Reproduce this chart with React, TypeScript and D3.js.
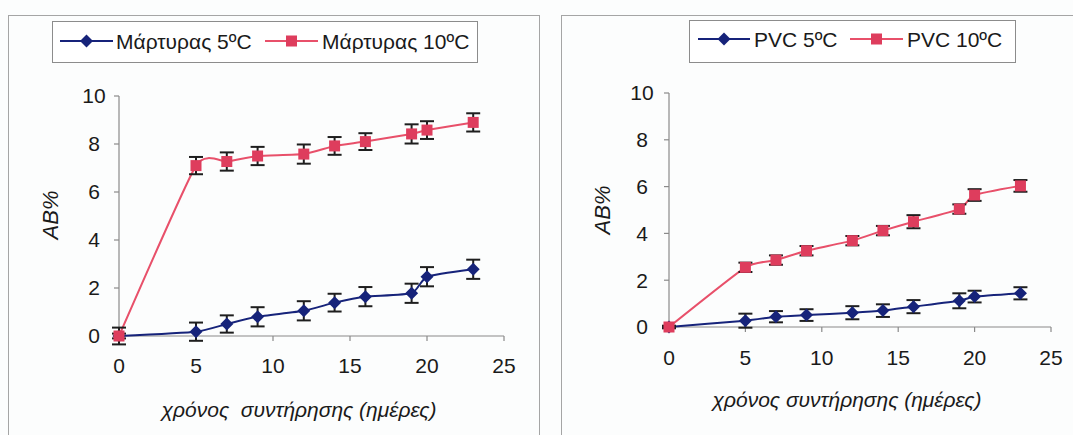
import React from "react";
import * as d3 from "d3";

// ---- data ----
const days = [0, 5, 7, 9, 12, 14, 16, 19, 20, 23];

const controlColdLabel = "Μάρτυρας 5ºC";
const controlCold = [0, 0.18, 0.5, 0.8, 1.05, 1.39, 1.64, 1.78, 2.47, 2.78];
const controlColdErr = [0.1, 0.38, 0.36, 0.4, 0.4, 0.37, 0.4, 0.4, 0.4, 0.4];

const controlWarmLabel = "Μάρτυρας 10ºC";
const controlWarm = [0, 7.1, 7.27, 7.5, 7.58, 7.92, 8.1, 8.42, 8.58, 8.9];
const controlWarmErr = [0.35, 0.36, 0.38, 0.38, 0.4, 0.37, 0.35, 0.4, 0.37, 0.38];

const pvcColdLabel = "PVC 5ºC";
const pvcCold = [0, 0.27, 0.44, 0.51, 0.61, 0.7, 0.87, 1.12, 1.3, 1.44];
const pvcColdErr = [0.05, 0.3, 0.24, 0.25, 0.28, 0.27, 0.28, 0.32, 0.25, 0.26];

const pvcWarmLabel = "PVC 10ºC";
const pvcWarm = [0, 2.55, 2.86, 3.26, 3.69, 4.12, 4.5, 5.04, 5.64, 6.03];
const pvcWarmErr = [0.05, 0.2, 0.2, 0.2, 0.2, 0.2, 0.28, 0.2, 0.25, 0.25];

const xTicks = [0, 5, 10, 15, 20, 25];
const yTicks = [0, 2, 4, 6, 8, 10];
const yTitle = "AB%";
const xTitleLeft = "χρόνος  συντήρησης (ημέρες)";
const xTitleRight = "χρόνος συντήρησης (ημέρες)";

// ---- style ----
const BLUE = "#16237a";
const RED_LINE = "#e8506a";
const RED_MARK = "#de3d5d";
const AXIS = "#8a8a8a";
const FONT = "'Liberation Sans', Arial, sans-serif";
const TXT = "#1a1a1a";

type Series = { label: string; values: number[]; err: number[]; kind: "diamond" | "square" };

type Layout = {
  frame: [number, number, number, number];
  plot: { x0: number; x1: number; y0: number; y1: number };
  legend: { x: number; y: number; w: number; h: number; items: { lx0: number; lx1: number; tx: number }[]; baseline: number };
  yTitle: { x: number; y: number };
  xTitle: { x: number; y: number; text: string };
  xTickBaseline: number;
  yLabelX: number;
};

function Marker({ kind, x, y, color }: { kind: string; x: number; y: number; color: string }) {
  if (kind === "diamond") {
    const r = 6.5;
    return <path d={`M${x},${y - r}L${x + r},${y}L${x},${y + r}L${x - r},${y}Z`} fill={color} />;
  }
  const s = 11;
  return <rect x={x - s / 2} y={y - s / 2} width={s} height={s} fill={color} />;
}

function Chart({ layout, series }: { layout: Layout; series: Series[] }) {
  const { plot } = layout;
  const x = d3.scaleLinear().domain([0, 25]).range([plot.x0, plot.x1]);
  const y = d3.scaleLinear().domain([0, 10]).range([plot.y1, plot.y0]);
  const line = d3
    .line<[number, number]>()
    .x((d) => x(d[0]))
    .y((d) => y(d[1]))
    .curve(d3.curveCardinal.tension(0.5));
  const [fx0, fy0, fx1, fy1] = layout.frame;
  const colorOf = (s: Series) => (s.kind === "diamond" ? BLUE : RED_LINE);
  const markOf = (s: Series) => (s.kind === "diamond" ? BLUE : RED_MARK);
  return (
    <g>
      <rect x={fx0 + 0.5} y={fy0 + 0.5} width={fx1 - fx0} height={fy1 - fy0} fill="none" stroke="#a5a5a5" strokeWidth={1} />
      {/* legend */}
      <rect
        x={layout.legend.x + 0.5}
        y={layout.legend.y + 0.5}
        width={layout.legend.w}
        height={layout.legend.h}
        fill="#ffffff"
        stroke="#8c8c8c"
        strokeWidth={1}
      />
      {series.map((s, i) => {
        const it = layout.legend.items[i];
        const cy = layout.legend.baseline - 8;
        return (
          <g key={"lg" + i}>
            <line x1={it.lx0} x2={it.lx1} y1={cy} y2={cy} stroke={colorOf(s)} strokeWidth={2} />
            <Marker kind={s.kind} x={(it.lx0 + it.lx1) / 2} y={cy} color={markOf(s)} />
            <text x={it.tx} y={layout.legend.baseline} fontSize={21} fontFamily={FONT} fill={TXT}>
              {s.label}
            </text>
          </g>
        );
      })}
      {/* axes */}
      <line x1={plot.x0} x2={plot.x0} y1={plot.y0} y2={plot.y1} stroke={AXIS} strokeWidth={1.2} />
      <line x1={plot.x0} x2={plot.x1} y1={plot.y1} y2={plot.y1} stroke={AXIS} strokeWidth={1.2} />
      {yTicks.map((t) => (
        <g key={"yt" + t}>
          <line x1={plot.x0 - 5} x2={plot.x0} y1={y(t)} y2={y(t)} stroke={AXIS} strokeWidth={1.2} />
          <text
            x={layout.yLabelX}
            y={y(t)}
            dy="0.35em"
            textAnchor="middle"
            fontSize={21}
            fontFamily={FONT}
            fill={TXT}
          >
            {t}
          </text>
        </g>
      ))}
      {xTicks.map((t) => (
        <g key={"xt" + t}>
          <line x1={x(t)} x2={x(t)} y1={plot.y1} y2={plot.y1 + 5} stroke={AXIS} strokeWidth={1.2} />
          <text x={x(t)} y={layout.xTickBaseline} textAnchor="middle" fontSize={21} fontFamily={FONT} fill={TXT}>
            {t}
          </text>
        </g>
      ))}
      <text
        transform={`translate(${layout.yTitle.x},${layout.yTitle.y}) rotate(-90)`}
        textAnchor="middle"
        dy="0.35em"
        fontSize={22}
        fontStyle="italic"
        fontFamily={FONT}
        fill={TXT}
      >
        {yTitle}
      </text>
      <text
        x={layout.xTitle.x}
        y={layout.xTitle.y}
        textAnchor="middle"
        fontSize={21}
        fontStyle="italic"
        fontFamily={FONT}
        fill={TXT}
        style={{ whiteSpace: "pre" }}
      >
        {layout.xTitle.text}
      </text>
      {/* series */}
      {series.map((s, i) => {
        const pts: [number, number][] = days.map((d, j) => [d, s.values[j]]);
        return (
          <g key={"s" + i}>
            <path d={line(pts) || ""} fill="none" stroke={colorOf(s)} strokeWidth={2} />
            {days.map((d, j) => {
              const cx = x(d);
              const top = y(s.values[j] + s.err[j]);
              const bot = y(s.values[j] - s.err[j]);
              return (
                <g key={"e" + j} stroke="#1e1e1e" strokeWidth={2}>
                  <line x1={cx} x2={cx} y1={top} y2={bot} />
                  <line x1={cx - 7} x2={cx + 7} y1={top} y2={top} />
                  <line x1={cx - 7} x2={cx + 7} y1={bot} y2={bot} />
                </g>
              );
            })}
            {days.map((d, j) => (
              <Marker key={"m" + j} kind={s.kind} x={x(d)} y={y(s.values[j])} color={markOf(s)} />
            ))}
          </g>
        );
      })}
    </g>
  );
}

const leftLayout: Layout = {
  frame: [8, 15, 539, 445],
  plot: { x0: 119, x1: 504, y0: 96, y1: 336 },
  legend: {
    x: 52,
    y: 21,
    w: 425,
    h: 41,
    baseline: 49,
    items: [
      { lx0: 60, lx1: 113, tx: 116 },
      { lx0: 265, lx1: 318, tx: 322 },
    ],
  },
  yTitle: { x: 50, y: 215 },
  xTitle: { x: 299, y: 417, text: xTitleLeft },
  xTickBaseline: 373,
  yLabelX: 94,
};

const rightLayout: Layout = {
  frame: [561, 15, 1085, 445],
  plot: { x0: 669, x1: 1051, y0: 93, y1: 327 },
  legend: {
    x: 689,
    y: 20,
    w: 326,
    h: 42,
    baseline: 47,
    items: [
      { lx0: 698, lx1: 750, tx: 754 },
      { lx0: 850, lx1: 903, tx: 907 },
    ],
  },
  yTitle: { x: 602, y: 210 },
  xTitle: { x: 847, y: 407, text: xTitleRight },
  xTickBaseline: 365,
  yLabelX: 642,
};

export default function App() {
  const leftSeries: Series[] = [
    { label: controlColdLabel, values: controlCold, err: controlColdErr, kind: "diamond" },
    { label: controlWarmLabel, values: controlWarm, err: controlWarmErr, kind: "square" },
  ];
  const rightSeries: Series[] = [
    { label: pvcColdLabel, values: pvcCold, err: pvcColdErr, kind: "diamond" },
    { label: pvcWarmLabel, values: pvcWarm, err: pvcWarmErr, kind: "square" },
  ];
  return (
    <svg
      width={1073}
      height={435}
      style={{ position: "absolute", left: 0, top: 0, background: "#fcfdfd" }}
    >
      <Chart layout={leftLayout} series={leftSeries} />
      <Chart layout={rightLayout} series={rightSeries} />
    </svg>
  );
}
